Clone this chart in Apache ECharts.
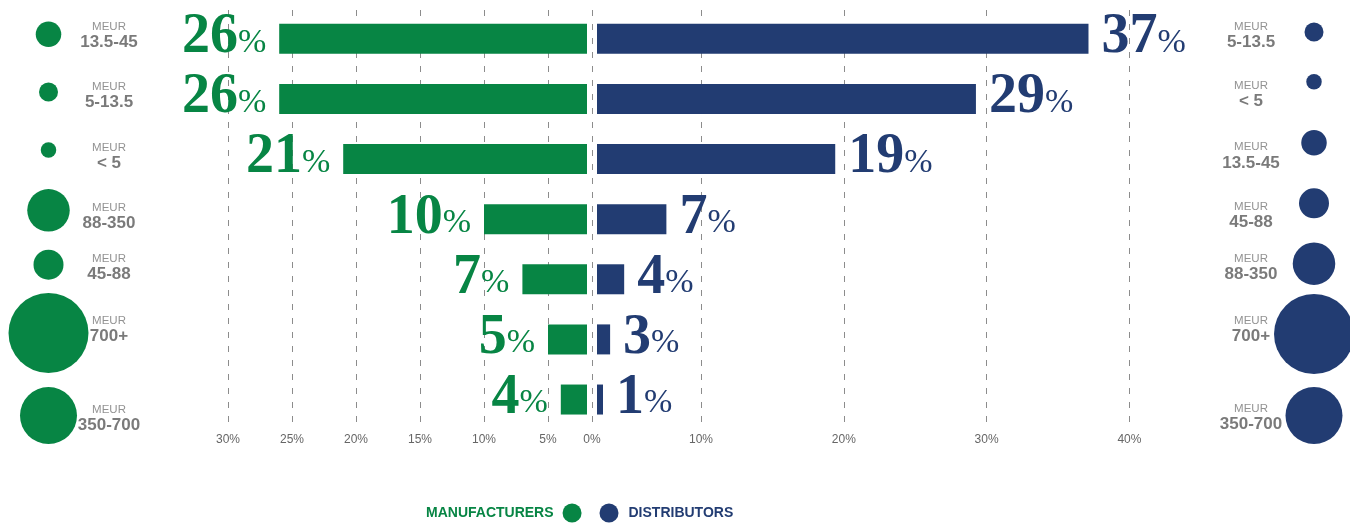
<!DOCTYPE html>
<html><head><meta charset="utf-8">
<script src="https://cdn.jsdelivr.net/npm/echarts@6/dist/echarts.min.js"></script>
<style>html,body{margin:0;padding:0;background:#fff}#c{width:1350px;height:525px}</style>
</head><body><div id="c"></div>
<script>
// ---------------- data ----------------
const mfrBrackets = ['13.5-45', '5-13.5', '< 5', '88-350', '45-88', '700+', '350-700'];
const mfrShare = [26, 26, 21, 10, 7, 5, 4];
const distBrackets = ['5-13.5', '< 5', '13.5-45', '45-88', '88-350', '700+', '350-700'];
const distShare = [37, 29, 19, 7, 4, 3, 1];
const sizeBrackets = ['< 5', '5-13.5', '13.5-45', '45-88', '88-350', '350-700', '700+'];
const unitLabel = 'MEUR';
const seriesNames = ['MANUFACTURERS', 'DISTRIBUTORS'];
const leftTickMax = 30, leftTickStep = 5;
const rightTickMax = 40, rightTickStep = 10;

// ---------------- style / layout ----------------
const GREEN = '#078544', NAVY = '#223C72';
const SANS = "'Liberation Sans', Arial, sans-serif";
const SERIF = "'Liberation Serif', 'DejaVu Serif', serif";
const CIRCLE_D = [15.5, 19, 25.5, 30, 42.5, 57, 80];      // diameter per sizeBrackets
const CIRCLE_NUDGE_L = [-4.5, -6.9, -9, -8.8, -14.6, -6.4, 16];
const CIRCLE_NUDGE_R = [-6.8, -17.2, -16.2, -15.8, -15.6, -5.4, 16];
const LABEL_NUDGE_L = [-2.8, -3.4, -2.3, -2.4, -11, -9.4, 18.8];
const LABEL_NUDGE_R = [-3.3, -3.9, -2.7, -3.1, -11, -10, 17.8];
const ROW_TOP = 8.7, ROW_H = 420.9;
const L0 = 612, LA = 12.8, L_EDGE = 587;      // left bars scale
const R0 = 567.9, RA = 14.07, R_EDGE = 597;   // right bars scale
const G0 = 558.2, GA = 14.28;                 // right grid-line scale
const GRID_TOP = 10, GRID_H = 416;

const dashLine = { color: '#8c8c8c', width: 1, type: [6, 8] };
const tickLabel = { color: '#666', fontSize: 12, fontFamily: SANS, margin: 8 };

function barLabel(color, pos) {
  return {
    show: true, position: pos, distance: 13, offset: [0, -1],
    formatter: '{n|{c}}{p|%}',
    rich: {
      n: { fontFamily: SERIF, fontWeight: 'bold', fontSize: 56, lineHeight: 56, color: color },
      p: { fontFamily: SERIF, fontSize: 34, verticalAlign: 'bottom', padding: [0, 0, 6, 0], color: color }
    }
  };
}
const catRich = {
  m: { fontFamily: SANS, fontSize: 11.5, lineHeight: 13, color: '#777' },
  b: { fontFamily: SANS, fontWeight: 'bold', fontSize: 17, lineHeight: 18, color: '#595959' }
};

const chart = echarts.init(document.getElementById('c'), null, { renderer: 'canvas' });
const option = {
  animation: false,
  backgroundColor: '#fff',
  grid: [
    { left: L0 - LA * leftTickMax, top: ROW_TOP, width: L_EDGE - (L0 - LA * leftTickMax), height: ROW_H },
    { left: R_EDGE, top: ROW_TOP, width: R0 + RA * rightTickMax - R_EDGE, height: ROW_H },
    { left: L0 - LA * leftTickMax, top: GRID_TOP, width: LA * leftTickMax, height: GRID_H },
    { left: G0, top: GRID_TOP, width: GA * rightTickMax, height: GRID_H },
    { left: 582, top: GRID_TOP, width: 20, height: GRID_H },
    { left: 18.25, top: ROW_TOP, width: 121, height: ROW_H },
    { left: 1219.5, top: ROW_TOP, width: 126, height: ROW_H }
  ],
  xAxis: [
    { type: 'value', gridIndex: 0, inverse: true, min: (L0 - L_EDGE) / LA, max: leftTickMax, show: false },
    { type: 'value', gridIndex: 1, min: (R_EDGE - R0) / RA, max: rightTickMax, show: false },
    { type: 'value', gridIndex: 2, inverse: true, min: 0, max: leftTickMax, interval: leftTickStep,
      axisLine: { show: false }, axisTick: { show: false },
      splitLine: { show: true, showMinLine: false, lineStyle: dashLine },
      axisLabel: Object.assign({ showMinLabel: false, formatter: v => v === 0 ? '' : v + '%' }, tickLabel) },
    { type: 'value', gridIndex: 3, min: 0, max: rightTickMax, interval: rightTickStep,
      axisLine: { show: false }, axisTick: { show: false },
      splitLine: { show: true, showMinLine: false, lineStyle: dashLine },
      axisLabel: Object.assign({ showMinLabel: false, formatter: v => v === 0 ? '' : v + '%' }, tickLabel) },
    { type: 'value', gridIndex: 4, min: -1, max: 1, interval: 1,
      axisLine: { show: false }, axisTick: { show: false },
      splitLine: { show: true, showMinLine: false, showMaxLine: false, lineStyle: dashLine },
      axisLabel: Object.assign({ showMinLabel: false, showMaxLabel: false, formatter: v => v === 0 ? '0%' : '' }, tickLabel) },
    { type: 'category', gridIndex: 5, data: ['circle', 'label'], show: false },
    { type: 'category', gridIndex: 6, data: ['label', 'circle'], show: false }
  ],
  yAxis: [
    { type: 'category', gridIndex: 0, data: mfrBrackets, inverse: true, show: false },
    { type: 'category', gridIndex: 1, data: distBrackets, inverse: true, show: false },
    { type: 'value', gridIndex: 2, min: 0, max: 1, show: false },
    { type: 'value', gridIndex: 3, min: 0, max: 1, show: false },
    { type: 'value', gridIndex: 4, min: 0, max: 1, show: false },
    { type: 'category', gridIndex: 5, data: mfrBrackets, inverse: true, show: false },
    { type: 'category', gridIndex: 6, data: distBrackets, inverse: true, show: false }
  ],
  legend: [
    { data: [{ name: seriesNames[0], textStyle: { color: GREEN } }], left: 421, top: 498.5,
      icon: 'circle', itemWidth: 19, itemHeight: 19, align: 'right', selectedMode: false,
      textStyle: { fontFamily: SANS, fontWeight: 'bold', fontSize: 14, padding: [0, 4, 0, 0] } },
    { data: [{ name: seriesNames[1], textStyle: { color: NAVY } }], left: 594.5, top: 498.5,
      icon: 'circle', itemWidth: 19, itemHeight: 19, align: 'left', selectedMode: false,
      textStyle: { fontFamily: SANS, fontWeight: 'bold', fontSize: 14, padding: [0, 0, 0, 5] } }
  ],
  series: [
    { name: seriesNames[0], type: 'bar', xAxisIndex: 0, yAxisIndex: 0, data: mfrShare,
      barWidth: 30, clip: true, silent: true, itemStyle: { color: GREEN },
      label: barLabel(GREEN, 'left') },
    { name: seriesNames[1], type: 'bar', xAxisIndex: 1, yAxisIndex: 1, data: distShare,
      barWidth: 30, clip: true, silent: true, barMinHeight: 603 - R0, itemStyle: { color: NAVY },
      label: barLabel(NAVY, 'right') },
    { type: 'scatter', xAxisIndex: 5, yAxisIndex: 5, silent: true, itemStyle: { color: GREEN, opacity: 1 },
      data: mfrBrackets.map((b, i) => ({ value: ['circle', b], symbolSize: CIRCLE_D[sizeBrackets.indexOf(b)], symbolOffset: [0, CIRCLE_NUDGE_L[i]] })) },
    { type: 'scatter', xAxisIndex: 6, yAxisIndex: 6, silent: true, itemStyle: { color: NAVY, opacity: 1 },
      data: distBrackets.map((b, i) => ({ value: ['circle', b], symbolSize: CIRCLE_D[sizeBrackets.indexOf(b)], symbolOffset: [0, CIRCLE_NUDGE_R[i]] })) },
    { type: 'scatter', xAxisIndex: 5, yAxisIndex: 5, silent: true, symbolSize: 1, itemStyle: { color: 'rgba(0,0,0,0)' },
      label: { show: true, position: 'inside', textBorderWidth: 0, align: 'center', formatter: p => '{m|' + unitLabel + '}\n{b|' + p.value[1] + '}', rich: catRich },
      data: mfrBrackets.map((b, i) => ({ value: ['label', b], label: { offset: [0, LABEL_NUDGE_L[i]] } })) },
    { type: 'scatter', xAxisIndex: 6, yAxisIndex: 6, silent: true, symbolSize: 1, itemStyle: { color: 'rgba(0,0,0,0)' },
      label: { show: true, position: 'inside', textBorderWidth: 0, align: 'center', formatter: p => '{m|' + unitLabel + '}\n{b|' + p.value[1] + '}', rich: catRich },
      data: distBrackets.map((b, i) => ({ value: ['label', b], label: { offset: [0, LABEL_NUDGE_R[i]] } })) }
  ]
};
chart.setOption(option);
</script>
</body></html>
